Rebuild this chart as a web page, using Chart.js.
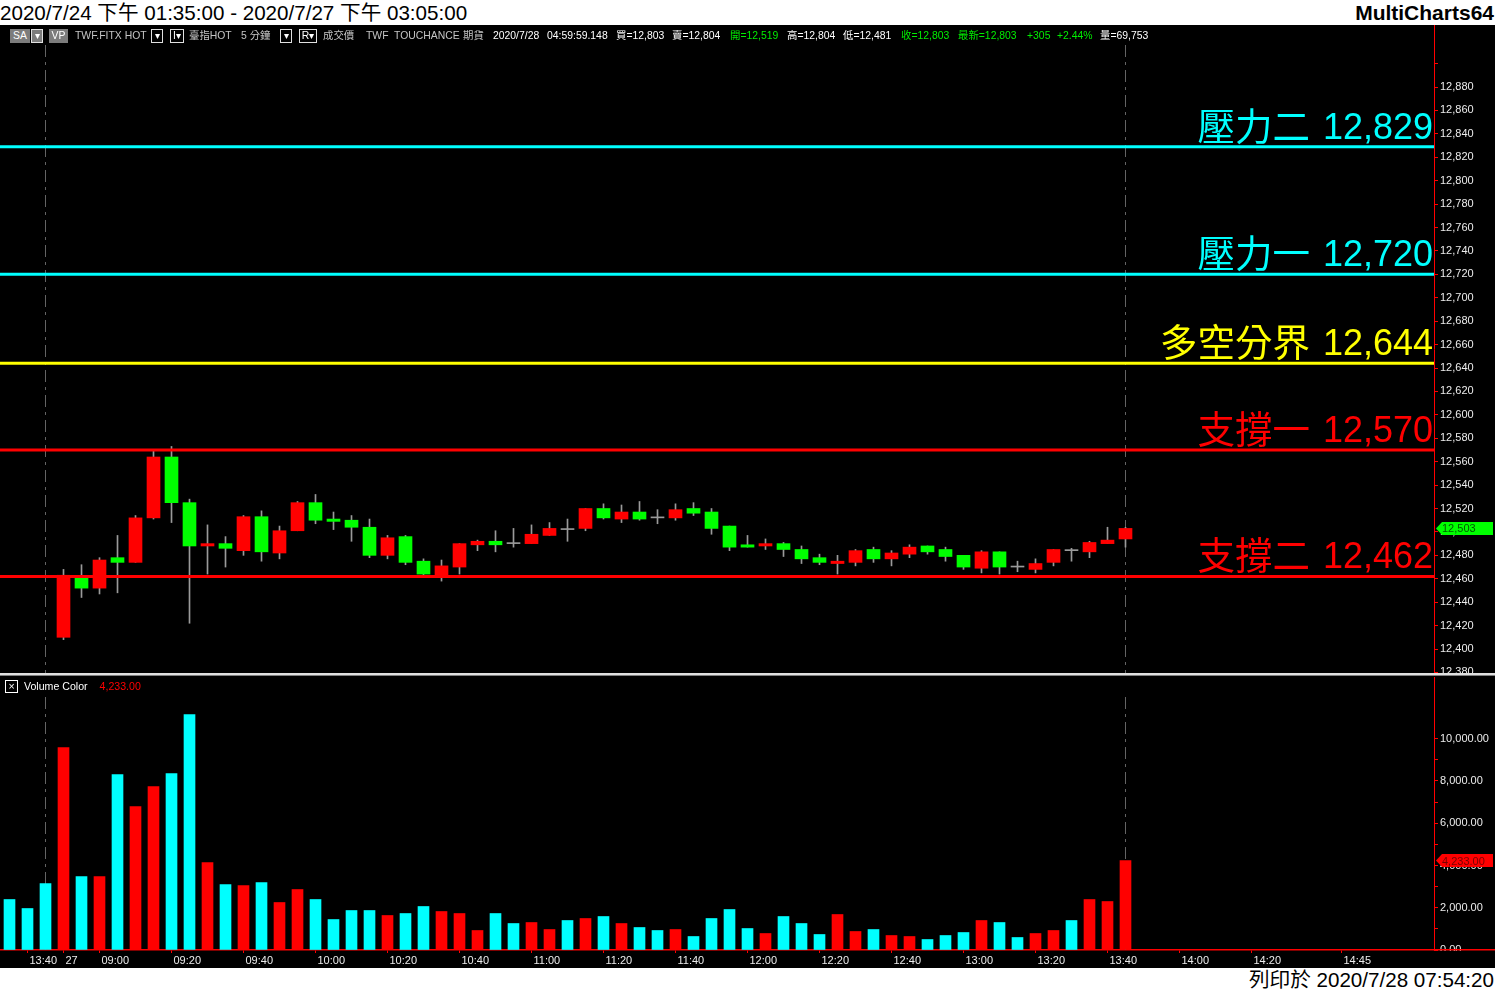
<!DOCTYPE html>
<html lang="zh-Hant">
<head>
<meta charset="utf-8">
<title>TWF.FITX HOT 5 分鐘</title>
<script src="https://cdn.jsdelivr.net/npm/chart.js@4.4.1/dist/chart.umd.min.js"></script>
<style>
  body { margin: 0; background: #fff; font-family: "Liberation Sans", Arial, "Noto Sans CJK TC", sans-serif; }
  #page { position: relative; width: 1495px; height: 991px; overflow: hidden; background: #fff; }
  #title { position: absolute; left: 0; top: 0; height: 25px; line-height: 25px; font-size: 20.6px; white-space: nowrap; color: #000; }
  #brand { position: absolute; right: 1px; top: 0; height: 25px; line-height: 25px; font-size: 21px; font-weight: bold; color: #000; }
  #board { position: absolute; left: 0; top: 25px; width: 1495px; height: 943px; background: #000; }
  #priceCanvas { position: absolute; left: 0; top: 0; }
  #volCanvas { position: absolute; left: 0; top: 652px; }
  #sep { position: absolute; left: 0; top: 648px; width: 1495px; height: 2px; background: #e0e0e0; border-bottom: 1px solid #808080; }
  .info { position: absolute; top: 4px; height: 14px; line-height: 14px; font-size: 10.4px; white-space: nowrap; color: #c4c4c4; z-index: 2; }
  .w { color: #fff; }
  .g { color: #00ee00; }
  .box { background: #7c7c7c; color: #fff; text-align: center; }
  .obox { border: 1px solid #e0e0e0; box-sizing: border-box; color: #fff; text-align: center; line-height: 12px; }
  #volHead { position: absolute; top: 655px; left: 5px; height: 13px; line-height: 13px; font-size: 10.6px; color: #fff; white-space: nowrap; z-index: 2; }
  #volHead .x { display: inline-block; width: 11px; height: 11px; border: 1px solid #fff; line-height: 10px; text-align: center; vertical-align: top; margin-right: 6px; }
  #volHead .r { color: #ff0000; margin-left: 12px; }
  #footer { position: absolute; right: 1px; top: 968px; height: 23px; line-height: 23px; font-size: 20.6px; color: #000; white-space: nowrap; }
</style>
</head>
<body>
<div id="page">
  <div id="title">2020/7/24 下午 01:35:00 - 2020/7/27 下午 03:05:00</div>
  <div id="brand">MultiCharts64</div>
  <div id="board">
    <canvas id="priceCanvas" width="1495" height="648"></canvas>
    <div id="sep"></div>
    <canvas id="volCanvas" width="1495" height="291"></canvas>

    <div class="info box" style="left:10px;width:20px">SA</div>
    <div class="info box obox" style="left:31px;width:12px">▾</div>
    <div class="info box" style="left:49px;width:19px">VP</div>
    <div class="info" style="left:75px">TWF.FITX HOT</div>
    <div class="info obox" style="left:151px;width:12px">▾</div>
    <div class="info obox" style="left:170px;width:14px">I▾</div>
    <div class="info" style="left:189px">臺指HOT</div>
    <div class="info" style="left:241px">5 分鐘</div>
    <div class="info obox" style="left:280px;width:12px">▾</div>
    <div class="info obox" style="left:299px;width:18px">R▾</div>
    <div class="info" style="left:323px">成交價</div>
    <div class="info" style="left:366px">TWF</div>
    <div class="info" style="left:394px">TOUCHANCE</div>
    <div class="info" style="left:463px">期貨</div>
    <div class="info w" style="left:493px">2020/7/28</div>
    <div class="info w" style="left:547px">04:59:59.148</div>
    <div class="info w" style="left:616px">買=12,803</div>
    <div class="info w" style="left:672px">賣=12,804</div>
    <div class="info g" style="left:730px">開=12,519</div>
    <div class="info w" style="left:787px">高=12,804</div>
    <div class="info w" style="left:843px">低=12,481</div>
    <div class="info g" style="left:901px">收=12,803</div>
    <div class="info g" style="left:958px">最新=12,803</div>
    <div class="info g" style="left:1027px">+305</div>
    <div class="info g" style="left:1057px">+2.44%</div>
    <div class="info w" style="left:1100px">量=69,753</div>

    <div id="volHead"><span class="x">×</span>Volume Color<span class="r">4,233.00</span></div>
  </div>
  <div id="footer">列印於 2020/7/28 07:54:20</div>
</div>

<script>
// 5 分鐘 K 棒: 7/24 最後三根 + 7/27 日盤
const times = ['13:35', '13:40', '13:45',
    '08:50', '08:55', '09:00', '09:05', '09:10', '09:15', '09:20', '09:25', '09:30', '09:35', '09:40', '09:45',
    '09:50', '09:55', '10:00', '10:05', '10:10', '10:15', '10:20', '10:25', '10:30', '10:35', '10:40', '10:45',
    '10:50', '10:55', '11:00', '11:05', '11:10', '11:15', '11:20', '11:25', '11:30', '11:35', '11:40', '11:45',
    '11:50', '11:55', '12:00', '12:05', '12:10', '12:15', '12:20', '12:25', '12:30', '12:35', '12:40', '12:45',
    '12:50', '12:55', '13:00', '13:05', '13:10', '13:15', '13:20', '13:25', '13:30', '13:35', '13:40', '13:45'];

// the 7/24 bars sit below the visible price range, only their volume shows
const open = [null, null, null,
    12410, 12462, 12452, 12478, 12474, 12512, 12564, 12525, 12488, 12490, 12484, 12513,
    12482, 12501, 12525, 12511, 12510, 12504, 12480, 12496, 12475, 12463, 12470, 12489,
    12492, 12490, 12490, 12497, 12502, 12503, 12520, 12511, 12517, 12512, 12512, 12520,
    12517, 12505, 12489, 12488, 12490, 12485, 12478, 12473, 12474, 12485, 12477, 12481,
    12488, 12485, 12480, 12469, 12483, 12470, 12468, 12474, 12484, 12483, 12490, 12494];
const high = [null, null, null,
    12468, 12472, 12478, 12497, 12514, 12569, 12573, 12528, 12506, 12496, 12514, 12518,
    12505, 12526, 12532, 12517, 12514, 12511, 12497, 12497, 12477, 12476, 12490, 12493,
    12501, 12503, 12506, 12508, 12511, 12520, 12524, 12523, 12526, 12519, 12524, 12525,
    12520, 12505, 12497, 12494, 12491, 12488, 12481, 12480, 12485, 12487, 12484, 12489,
    12488, 12487, 12480, 12484, 12483, 12475, 12477, 12485, 12486, 12492, 12504, 12504];
const low = [null, null, null,
    12408, 12444, 12447, 12448, 12474, 12511, 12508, 12422, 12464, 12470, 12480, 12475,
    12477, 12501, 12507, 12502, 12492, 12478, 12477, 12472, 12463, 12458, 12464, 12484,
    12483, 12487, 12490, 12497, 12492, 12501, 12511, 12508, 12510, 12507, 12510, 12514,
    12498, 12484, 12487, 12485, 12479, 12473, 12472, 12464, 12471, 12474, 12471, 12478,
    12481, 12475, 12468, 12465, 12464, 12466, 12465, 12471, 12475, 12478, 12490, 12487];
const close = [null, null, null,
    12463, 12452, 12476, 12474, 12512, 12564, 12525, 12488, 12490, 12486, 12513, 12483,
    12501, 12525, 12510, 12509, 12504, 12480, 12495, 12474, 12464, 12471, 12490, 12492,
    12489, 12490, 12498, 12503, 12502, 12520, 12512, 12517, 12511, 12512, 12519, 12516,
    12503, 12487, 12487, 12490, 12485, 12477, 12474, 12475, 12484, 12477, 12482, 12487,
    12483, 12479, 12470, 12483, 12470, 12470, 12473, 12485, 12484, 12491, 12493, 12503];
const volume = [2390, 1964, 3147,
    9584, 3478, 3478, 8306, 6791, 7738, 8353, 11145, 4141, 3100, 3053, 3195,
    2248, 2863, 2390, 1443, 1869, 1869, 1633, 1727, 2059, 1822, 1727, 923,
    1727, 1254, 1301, 970, 1396, 1491, 1585, 1254, 1065, 923, 970, 639,
    1491, 1917, 1017, 781, 1585, 1254, 734, 1680, 876, 970, 686, 639,
    497, 686, 828, 1396, 1301, 592, 781, 923, 1396, 2390, 2295, 4233];

// 壓力 / 支撐
const levelNames = ['壓力二', '壓力一', '多空分界', '支撐一', '支撐二'];
const levelValues = [12829, 12720, 12644, 12570, 12462];
const levelColors = ['#00ffff', '#00ffff', '#ffff00', '#ff0000', '#ff0000'];

// x axis labels (bar slot -> text), slots after 13:45 are empty future time
const tickSlots = [1, 3, 5, 9, 13, 17, 21, 25, 29, 33, 37, 41, 45, 49, 53, 57, 61, 65, 69, 74];
const tickText = ['13:40', '27', '09:00', '09:20', '09:40', '10:00', '10:20', '10:40', '11:00', '11:20',
    '11:40', '12:00', '12:20', '12:40', '13:00', '13:20', '13:40', '14:00', '14:20', '14:45'];
const sessionEnds = [2, 62];

const RED = '#ff0000';
const GREEN = '#00ff00';
const CYAN = '#00ffff';
const WICK = '#9a9a9a';
const AXIS_TEXT = '#ececec';
const FONT = '"Liberation Sans", Arial, "Noto Sans CJK TC", sans-serif';
const X_MIN = -0.528;
const X_MAX = 79.139;
const last = times.length - 1;

const candles = times.map((t, i) => i).filter(i => open[i] !== null);
const bodyColor = candles.map(i => close[i] > open[i] ? RED : close[i] < open[i] ? GREEN : WICK);
const volColor = times.map((t, i) => close[i] !== null && close[i] > open[i] ? RED : CYAN);

const fitAxis = (width) => (scale) => {
    if (width) scale.width = width;
    scale.paddingTop = 0;
    scale.paddingBottom = 0;
    scale.paddingLeft = 0;
    scale.paddingRight = 0;
};

const sessionLines = (gapTop) => ({
    id: 'sessionLines',
    beforeDatasetsDraw(chart) {
        const { ctx, chartArea, scales } = chart;
        ctx.save();
        ctx.strokeStyle = '#646464';
        ctx.lineWidth = 1;
        ctx.setLineDash([12, 5, 3, 5]);
        sessionEnds.forEach(i => {
            const px = Math.floor(scales.x.getPixelForValue(i)) + 0.5;
            ctx.beginPath();
            ctx.moveTo(px, chartArea.top + gapTop);
            ctx.lineTo(px, chartArea.bottom);
            ctx.stroke();
        });
        ctx.restore();
    }
});

const drawTag = (ctx, x0, x1, y, text, bg, fg) => {
    ctx.save();
    ctx.fillStyle = bg;
    ctx.beginPath();
    ctx.moveTo(x0, y);
    ctx.lineTo(x0 + 6, y - 6.5);
    ctx.lineTo(x1, y - 6.5);
    ctx.lineTo(x1, y + 6.5);
    ctx.lineTo(x0 + 6, y + 6.5);
    ctx.closePath();
    ctx.fill();
    ctx.fillStyle = fg;
    ctx.font = '11px ' + FONT;
    ctx.textBaseline = 'middle';
    ctx.fillText(text, x0 + 6, y + 1);
    ctx.restore();
};

const levelText = {
    id: 'levelText',
    afterDatasetsDraw(chart) {
        const { ctx, chartArea, scales } = chart;
        ctx.save();
        ctx.textAlign = 'right';
        ctx.textBaseline = 'alphabetic';
        levelValues.forEach((v, k) => {
            const y = scales.y.getPixelForValue(v) - 8;
            const num = v.toLocaleString('en-US');
            ctx.fillStyle = levelColors[k];
            ctx.font = '36px ' + FONT;
            const numLeft = chartArea.right - 1 - ctx.measureText(num).width;
            ctx.fillText(num, chartArea.right - 1, y);
            ctx.font = '37.5px "Noto Sans CJK TC", sans-serif';
            ctx.fillText(levelNames[k], numLeft - 13, y + 1);
        });
        ctx.restore();
    },
    afterDraw(chart) {
        const { ctx, chartArea, scales } = chart;
        drawTag(ctx, chartArea.right + 2, chart.width - 2, scales.y.getPixelForValue(close[last]),
            close[last].toLocaleString('en-US'), GREEN, '#005a00');
    }
};

const volTag = {
    id: 'volTag',
    afterDraw(chart) {
        const { ctx, chartArea, scales } = chart;
        ctx.save();
        ctx.fillStyle = '#000';
        ctx.fillRect(chartArea.right + 1, chartArea.bottom + 1, chart.width, chart.height);
        ctx.fillStyle = RED;
        ctx.fillRect(chartArea.right, chartArea.bottom - 1, chart.width - chartArea.right, 1.5);
        ctx.restore();
        drawTag(ctx, chartArea.right + 2, chart.width - 2, scales.y.getPixelForValue(volume[last]),
            volume[last].toLocaleString('en-US', { minimumFractionDigits: 2 }), RED, '#7a0000');
    }
};

const baseOptions = {
    responsive: false,
    animation: false,
    devicePixelRatio: 1,
    layout: { padding: 0 },
    plugins: { legend: { display: false }, tooltip: { enabled: false } },
};

// price pane
new Chart(document.getElementById('priceCanvas'), {
    type: 'bar',
    data: {
        datasets: [
            ...levelValues.map((v, k) => ({
                type: 'line',
                data: [{ x: X_MIN, y: v }, { x: X_MAX, y: v }],
                borderColor: levelColors[k],
                borderWidth: 3,
                pointRadius: 0,
                order: 0,
            })),
            {
                data: candles.map(i => ({ x: i, y: [open[i], close[i]] })),
                backgroundColor: bodyColor,
                barThickness: 13,
                minBarLength: 1,
                grouped: false,
                order: 1,
            },
            {
                data: candles.map(i => ({ x: i, y: [low[i], high[i]] })),
                backgroundColor: WICK,
                barThickness: 1,
                grouped: false,
                order: 2,
            },
        ],
    },
    options: {
        ...baseOptions,
        scales: {
            x: { type: 'linear', min: X_MIN, max: X_MAX, offset: false, display: false },
            y: {
                position: 'right',
                min: 12379.5,
                max: 12933,
                afterBuildTicks: (s) => {
                    const t = [];
                    for (let v = 12380; v <= 12900; v += 10) t.push({ value: v });
                    s.ticks = t;
                },
                afterFit: fitAxis(61),
                ticks: {
                    color: AXIS_TEXT,
                    font: { family: FONT, size: 11 },
                    padding: 2,
                    callback: (v) => (v % 20 === 0 && v < 12900) ? v.toLocaleString('en-US') : '',
                },
                grid: { drawOnChartArea: false, tickColor: RED, tickLength: 4 },
                border: { color: RED, width: 1 },
            },
        },
    },
    plugins: [sessionLines(20), levelText],
});

// volume pane
new Chart(document.getElementById('volCanvas'), {
    type: 'bar',
    data: {
        datasets: [{
            data: times.map((t, i) => ({ x: i, y: volume[i] })),
            backgroundColor: volColor,
            barThickness: 11,
            grouped: false,
        }],
    },
    options: {
        ...baseOptions,
        scales: {
            x: {
                type: 'linear',
                min: X_MIN,
                max: X_MAX,
                offset: false,
                afterBuildTicks: (s) => { s.ticks = tickSlots.map(v => ({ value: v })); },
                afterFit: (s) => { s.height = 18; fitAxis(0)(s); },
                ticks: {
                    color: AXIS_TEXT,
                    font: { family: FONT, size: 11 },
                    align: 'start',
                    labelOffset: 2,
                    padding: 1,
                    autoSkip: false,
                    maxRotation: 0,
                    callback: (v, i) => tickText[i],
                },
                grid: { drawOnChartArea: false, offset: false, tickColor: RED, tickLength: 3 },
                border: { color: RED, width: 1.5 },
            },
            y: {
                position: 'right',
                min: 0,
                max: 12920,
                afterBuildTicks: (s) => {
                    const t = [];
                    for (let v = 0; v <= 10000; v += 1000) t.push({ value: v });
                    s.ticks = t;
                },
                afterFit: fitAxis(61),
                ticks: {
                    color: AXIS_TEXT,
                    font: { family: FONT, size: 11 },
                    padding: 2,
                    callback: (v) => v % 2000 === 0 ? v.toLocaleString('en-US', { minimumFractionDigits: 2 }) : '',
                },
                grid: { drawOnChartArea: false, tickColor: RED, tickLength: 4 },
                border: { color: RED, width: 1 },
            },
        },
    },
    plugins: [sessionLines(20), volTag],
});
</script>
</body>
</html>
